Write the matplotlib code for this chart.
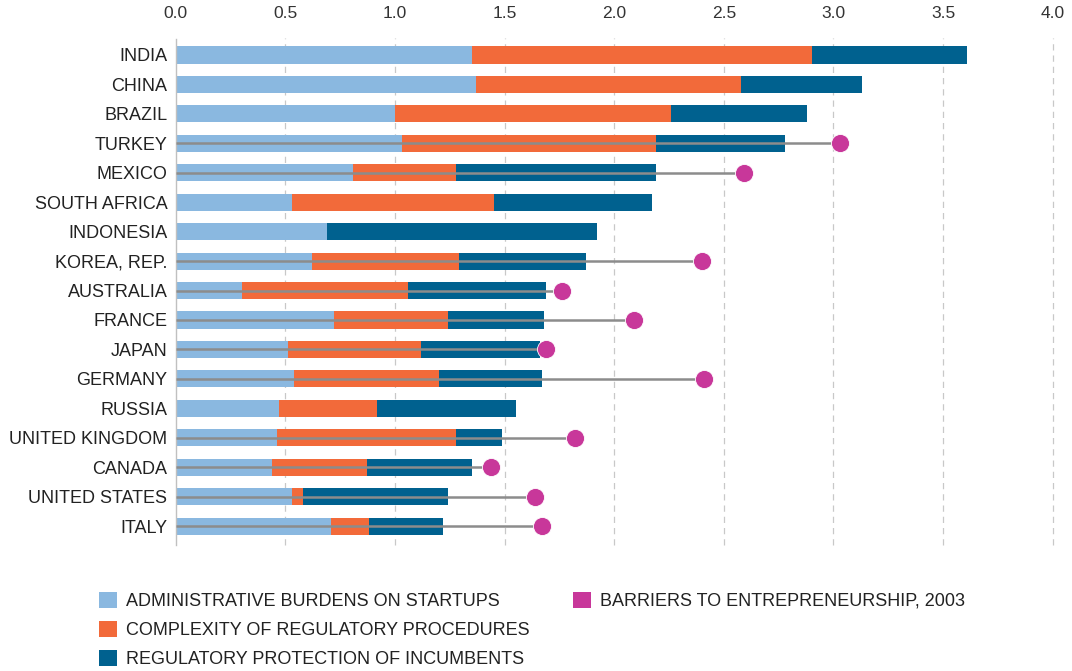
import numpy as np
import matplotlib
matplotlib.use("Agg")
import matplotlib.pyplot as plt
from matplotlib.patches import Patch

plt.rcParams['font.family'] = ['Liberation Sans', 'DejaVu Sans']

countries = ["INDIA", "CHINA", "BRAZIL", "TURKEY", "MEXICO", "SOUTH AFRICA",
             "INDONESIA", "KOREA, REP.", "AUSTRALIA", "FRANCE", "JAPAN",
             "GERMANY", "RUSSIA", "UNITED KINGDOM", "CANADA", "UNITED STATES",
             "ITALY"]

# component values (stacked)
admin = [1.35, 1.37, 1.00, 1.03, 0.81, 0.53, 0.69, 0.62, 0.30, 0.72, 0.51,
         0.54, 0.47, 0.46, 0.44, 0.53, 0.71]
complexity = [1.55, 1.21, 1.26, 1.16, 0.47, 0.92, 0.00, 0.67, 0.76, 0.52,
              0.61, 0.66, 0.45, 0.82, 0.43, 0.05, 0.17]
incumbents = [0.71, 0.55, 0.62, 0.59, 0.91, 0.72, 1.23, 0.58, 0.63, 0.44,
              0.54, 0.47, 0.63, 0.21, 0.48, 0.66, 0.34]
# 2003 total (None = not available)
barriers_2003 = [None, None, None, 3.03, 2.59, None, None, 2.40, 1.76, 2.09,
                 1.69, 2.41, None, 1.82, 1.44, 1.64, 1.67]

xticks = [0.0, 0.5, 1.0, 1.5, 2.0, 2.5, 3.0, 3.5, 4.0]

c_admin = "#8ab8e0"
c_complex = "#f26a3a"
c_incumb = "#00618f"
c_dot = "#c8379a"

fig = plt.figure(figsize=(10.72, 6.71), dpi=100)
ax = fig.add_axes([0.164, 0.194, 0.818, 0.746])

y = np.arange(len(countries))
admin = np.array(admin)
complexity = np.array(complexity)
incumbents = np.array(incumbents)
h = 0.58

ax.barh(y, admin, height=h, color=c_admin, zorder=2)
ax.barh(y, complexity, left=admin, height=h, color=c_complex, zorder=2)
ax.barh(y, incumbents, left=admin + complexity, height=h, color=c_incumb, zorder=2)

for yi, v in zip(y, barriers_2003):
    if v is None:
        continue
    ax.plot([0, v - 0.03], [yi, yi], color="#8c8c8c", lw=1.8, zorder=3,
            solid_capstyle="butt")
    ax.plot(v, yi, "o", ms=13, color=c_dot, mec="white", mew=0.6, zorder=4)

ax.set_ylim(len(countries) - 0.5, -0.5)
ax.set_xlim(0, 4.0)
ax.set_yticks(y)
ax.set_yticklabels(countries, fontsize=13, color="#222222")
ax.set_xticks(xticks)
ax.set_xticklabels([f"{t:.1f}" for t in xticks], fontsize=12.5, color="#333333")
ax.xaxis.tick_top()
ax.tick_params(axis="both", length=0)
ax.tick_params(axis="x", pad=14)
ax.tick_params(axis="y", pad=6)

for t in xticks[1:]:
    ax.axvline(t, ymin=-0.008, ymax=1.004, color="#c8c8c8", lw=0.9,
               ls=(0, (5, 4)), zorder=1, clip_on=False)

for s in ["top", "right", "bottom"]:
    ax.spines[s].set_visible(False)
ax.spines["left"].set_color("#c0c0c0")
ax.spines["left"].set_linewidth(1.0)
ax.spines["left"].set_bounds(len(countries) - 0.35, -0.55)

blank = Patch(facecolor="none", edgecolor="none")
handles = [Patch(facecolor=c_admin), Patch(facecolor=c_complex),
           Patch(facecolor=c_incumb), Patch(facecolor=c_dot), blank, blank]
labels = ["ADMINISTRATIVE BURDENS ON STARTUPS", "COMPLEXITY OF REGULATORY PROCEDURES",
          "REGULATORY PROTECTION OF INCUMBENTS", "BARRIERS TO ENTREPRENEURSHIP, 2003",
          "", ""]
fig.legend(handles, labels, ncol=2, loc="upper left",
           bbox_to_anchor=(0.079, 0.14), frameon=False, fontsize=13,
           handlelength=1.0, handleheight=1.0, handletextpad=0.5,
           labelspacing=0.6, columnspacing=2.4, labelcolor="#222222",
           borderpad=0.3)

fig.savefig("out.png", dpi=100)
